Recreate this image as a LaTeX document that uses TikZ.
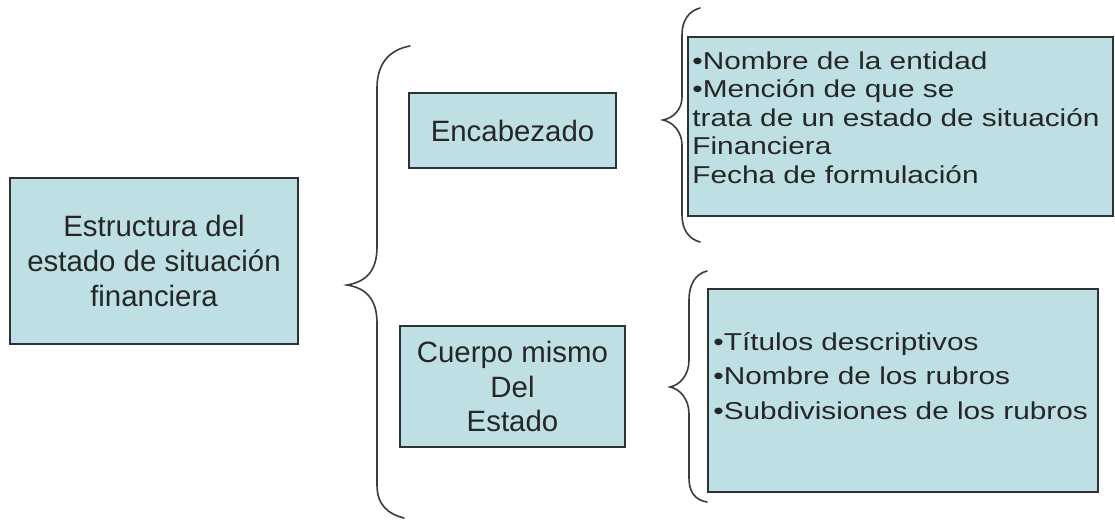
\documentclass[tikz,border=0pt]{standalone}
\usepackage{fontspec}
\setmainfont{Liberation Sans}
\newfontfamily\anchafont[FakeStretch=1.22]{Liberation Sans}
\usepackage{tikz}
\definecolor{cajafill}{RGB}{190,224,228}
\definecolor{borde}{RGB}{45,50,50}
\definecolor{llave}{RGB}{60,60,60}
\tikzset{
  caja/.style={draw=borde,fill=cajafill,line width=0.6pt,inner sep=0pt,align=center,
    text=black!85,font=\fontsize{14.7}{17.3}\selectfont},
  lista/.style={anchor=north west,inner sep=0pt,align=left,text=black!85},
  llavelin/.style={draw=llave,line width=0.8pt,line cap=round}
}

\begin{document}
\begin{tikzpicture}[x=0.5pt,y=-0.5pt]
\useasboundingbox (0,0) rectangle (1115,520);

\node[caja,minimum width=144pt,minimum height=83pt] (est) at (154,261) {Estructura del\\estado de situación\\financiera};
\node[caja,minimum width=103.5pt,minimum height=37.5pt] (enc) at (512.5,130.5) {Encabezado};
\node[caja,minimum width=112.5pt,minimum height=60.5pt] (cue) at (512.5,386.5) {Cuerpo mismo\\Del\\Estado};
\node[caja,minimum width=212.5pt,minimum height=89.5pt] (b1) at (900.5,126.5) {};
\node[caja,minimum width=195pt,minimum height=101.5pt] (b2) at (903,390.5) {};

\node[lista,font=\anchafont\fontsize{12.2}{14.25}\selectfont] (t1) at (692,51)
  {•Nombre de la entidad\\•Mención de que se\\trata de un estado de situación\\Financiera\\Fecha de formulación};
\node[lista,font=\anchafont\fontsize{12.2}{17.25}\selectfont] (t2) at (713,332)
  {•Títulos descriptivos\\•Nombre de los rubros\\•Subdivisiones de los rubros};

% llaves
\draw[llavelin] (410,46) .. controls (388,50) and (377,65) .. (377,88) -- (377,247)
  .. controls (377,272) and (365,282) .. (347,285) .. controls (365,288) and (377,298) .. (377,323)
  -- (377,485) .. controls (377,505) and (388,514) .. (404,518);
\draw[llavelin] (700,8) .. controls (689,11) and (682,20) .. (682,35) -- (682,97)
  .. controls (682,110) and (673,118) .. (663,120) .. controls (673,122) and (682,132) .. (682,145)
  -- (682,215) .. controls (682,230) and (689,239) .. (700,242);
\draw[llavelin] (707,271) .. controls (695,274) and (689,285) .. (689,300) -- (689,360)
  .. controls (689,375) and (680,385) .. (670,387) .. controls (680,389) and (689,399) .. (689,414)
  -- (689,478) .. controls (689,492) and (695,500) .. (707,502);
\end{tikzpicture}
\end{document}
